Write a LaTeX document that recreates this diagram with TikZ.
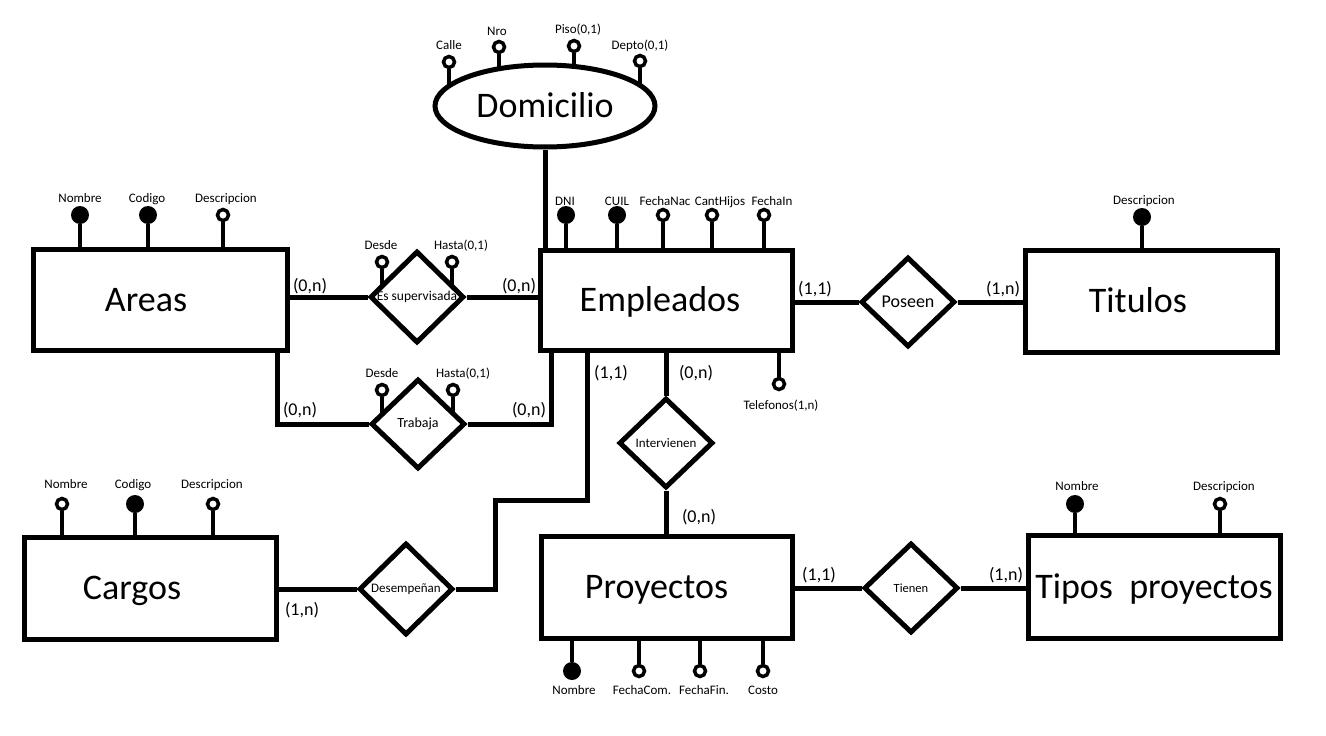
\documentclass[tikz,border=0pt]{standalone}
\usepackage{fontspec}
\setmainfont{Carlito}
\usetikzlibrary{shapes.geometric,backgrounds}
\begin{document}
\begin{tikzpicture}[x=1pt,y=-1pt,
  ent/.style={draw, line width=5pt, inner sep=0pt, fill=white, font=\fontsize{36}{40}\selectfont, text height=23pt, text depth=0pt},
  rel/.style={diamond, draw, line width=5pt, inner sep=0pt, fill=white, minimum width=94pt, minimum height=90pt},
  lnk/.style={line width=5pt},
  stem/.style={line width=4.5pt},
  keyatt/.style={circle, fill=black, minimum size=18pt, inner sep=0pt},
  att/.style={circle, draw, line width=3.5pt, fill=white, minimum size=11pt, inner sep=0pt},
  lab/.style={font=\fontsize{13}{14}\selectfont, inner sep=0pt, text height=9pt, text depth=3pt},
  card/.style={font=\fontsize{18}{20}\selectfont, inner sep=0pt}
]
\useasboundingbox (0,0) rectangle (1326,736);
\begin{scope}[on background layer]
\fill[white] (0,0) rectangle (1326,736);
\end{scope}

% entities
\node[ent, minimum width=254pt, minimum height=101pt] (A) at (160,299.5) {Areas\hspace*{28pt}};
\node[ent, minimum width=252pt, minimum height=100pt] (E) at (666,300) {Empleados\hspace*{12pt}};
\node[ent, minimum width=252pt, minimum height=102pt] (T) at (1151,301) {Titulos\hspace*{26pt}};
\node[ent, minimum width=252pt, minimum height=102pt] (C) at (150,588) {Cargos\hspace*{36pt}};
\node[ent, minimum width=251pt, minimum height=102pt] (P) at (666.5,587) {Proyectos\hspace*{20pt}};
\node[ent, minimum width=252pt, minimum height=103pt] (TP) at (1154,586.5) {Tipos\ \ proyectos};

% Domicilio
\node[ellipse, draw, line width=5pt, fill=white, minimum width=220pt, minimum height=82pt, inner sep=0pt, font=\fontsize{36}{40}\selectfont, text height=23pt, text depth=0pt] (D) at (545,106) {Domicilio};
\draw[lnk] (D.south) -- (D.south |- E.north);

% relationships
\node[rel, font=\fontsize{13.5}{14}\selectfont] (RS) at (417,297) {Es supervisada};
\node[rel, font=\fontsize{14}{15}\selectfont] (RT) at (418,424) {Trabaja};
\node[rel, font=\fontsize{18}{20}\selectfont] (RP) at (908,302) {Poseen};
\node[rel, font=\fontsize{13}{14}\selectfont] (RI) at (666,443) {Intervienen};
\node[rel, font=\fontsize{13}{14}\selectfont, minimum height=92pt] (RD) at (406,589) {Desempeñan};
\node[rel, font=\fontsize{12.5}{14}\selectfont] (RN) at (911,588) {Tienen};

% connectors
\draw[lnk] (RS.west) -- (RS.west -| A.east);
\draw[lnk] (RS.east) -- (RS.east -| E.west);
\coordinate (ta) at (277,350);
\coordinate (tb) at (551,350);
\draw[lnk] (ta) |- (RT.west);
\draw[lnk] (RT.east) -| (tb);
\draw[lnk] (RP.west) -- (RP.west -| E.east);
\draw[lnk] (RP.east) -- (RP.east -| T.west);
\draw[lnk] (RI.north) -- (RI.north |- E.south);
\draw[lnk] (RI.south) -- (RI.south |- P.north);
\draw[lnk] (RD.west) -- (RD.west -| C.east);
\coordinate (k1) at (495,500);
\coordinate (k2) at (587,350);
\draw[lnk] (RD.east) -| (k1) -| (k2);
\draw[lnk] (RN.west) -- (RN.west -| P.east);
\draw[lnk] (RN.east) -- (RN.east -| TP.west);

% cardinalities
\node[card] (c1) at (310,286) {(0,n)};
\node[card] (c2) at (519,286) {(0,n)};
\node[card] (c3) at (300,410) {(0,n)};
\node[card] (c4) at (529,410) {(0,n)};
\node[card] (c5) at (611,373) {(1,1)};
\node[card] (c6) at (696,373) {(0,n)};
\node[card] (c7) at (815,289) {(1,1)};
\node[card] (c8) at (1003,289) {(1,n)};
\node[card] (c9) at (302,610) {(1,n)};
\node[card] (c10) at (699,517) {(0,n)};
\node[card] (c11) at (819,575) {(1,1)};
\node[card] (c12) at (1006,575) {(1,n)};

% attribute circles of Domicilio and of the relationships
\node[att] (d1) at (449,62) {};
\node[att] (d2) at (499,47) {};
\node[att] (d3) at (574,46) {};
\node[att] (d4) at (640,61) {};
\node[att] (s1) at (382,262) {};
\node[att] (s2) at (452,262) {};
\node[att] (t1) at (382,390) {};
\node[att] (t2) at (453,390) {};
\begin{scope}[on background layer]
\draw[stem] (d1) -- (d1 |- D.center);
\draw[stem] (d2) -- (d2 |- D.center);
\draw[stem] (d3) -- (d3 |- D.center);
\draw[stem] (d4) -- (d4 |- D.center);
\draw[stem] (s1) -- (s1 |- RS.center);
\draw[stem] (s2) -- (s2 |- RS.center);
\draw[stem] (t1) -- (t1 |- RT.center);
\draw[stem] (t2) -- (t2 |- RT.center);
\end{scope}
\node[lab] (d1l) at (449,46) {Calle};
\node[lab] (d2l) at (497,32) {Nro};
\node[lab] (d3l) at (578,31) {Piso(0,1)};
\node[lab] (d4l) at (640,46) {Depto(0,1)};
\node[lab] (s1l) at (381,246) {Desde};
\node[lab] (s2l) at (461,246) {Hasta(0,1)};
\node[lab] (t1l) at (382,374) {Desde};
\node[lab] (t2l) at (463,374) {Hasta(0,1)};

% Areas attributes
\node[keyatt] (a1) at (80,215) {};
\node[keyatt] (a2) at (148,215) {};
\node[att] (a3) at (223,215) {};
\draw[stem] (a1) -- (a1 |- A.north);
\draw[stem] (a2) -- (a2 |- A.north);
\draw[stem] (a3) -- (a3 |- A.north);
\node[lab] (a1l) at (80,199) {Nombre};
\node[lab] (a2l) at (147,199) {Codigo};
\node[lab] (a3l) at (226,199) {Descripcion};

% Empleados attributes
\node[keyatt] (e1) at (566,215) {};
\node[keyatt] (e2) at (617,215) {};
\node[att] (e3) at (663,215) {};
\node[att] (e4) at (712,215) {};
\node[att] (e5) at (764,215) {};
\node[att] (e6) at (779,384) {};
\draw[stem] (e1) -- (e1 |- E.north);
\draw[stem] (e2) -- (e2 |- E.north);
\draw[stem] (e3) -- (e3 |- E.north);
\draw[stem] (e4) -- (e4 |- E.north);
\draw[stem] (e5) -- (e5 |- E.north);
\draw[stem] (e6) -- (e6 |- E.south);
\node[lab] (e1l) at (565,202) {DNI};
\node[lab] (e2l) at (617,202) {CUIL};
\node[lab] (e3l) at (665,202) {FechaNac};
\node[lab] (e4l) at (720,202) {CantHijos};
\node[lab] (e5l) at (772,202) {FechaIn};
\node[lab] (e6l) at (781,406) {Telefonos(1,n)};

% Titulos attributes
\node[keyatt] (ti1) at (1142,217) {};
\draw[stem] (ti1) -- (ti1 |- T.north);
\node[lab] (ti1l) at (1144,201) {Descripcion};

% Cargos attributes
\node[att] (g1) at (62,504) {};
\node[keyatt] (g2) at (135,504) {};
\node[att] (g3) at (213,504) {};
\draw[stem] (g1) -- (g1 |- C.north);
\draw[stem] (g2) -- (g2 |- C.north);
\draw[stem] (g3) -- (g3 |- C.north);
\node[lab] (g1l) at (66,485) {Nombre};
\node[lab] (g2l) at (133,485) {Codigo};
\node[lab] (g3l) at (212,485) {Descripcion};

% Proyectos attributes
\node[keyatt] (p1) at (572,671) {};
\node[att] (p2) at (639,671) {};
\node[att] (p3) at (700,671) {};
\node[att] (p4) at (763,671) {};
\draw[stem] (p1) -- (p1 |- P.south);
\draw[stem] (p2) -- (p2 |- P.south);
\draw[stem] (p3) -- (p3 |- P.south);
\draw[stem] (p4) -- (p4 |- P.south);
\node[lab] (p1l) at (574,691) {Nombre};
\node[lab] (p2l) at (642,691) {FechaCom.};
\node[lab] (p3l) at (704,691) {FechaFin.};
\node[lab] (p4l) at (763,691) {Costo};

% Tipos proyectos attributes
\node[keyatt] (tp1) at (1075,504) {};
\node[att] (tp2) at (1220,504) {};
\draw[stem] (tp1) -- (tp1 |- TP.north);
\draw[stem] (tp2) -- (tp2 |- TP.north);
\node[lab] (tp1l) at (1077,487) {Nombre};
\node[lab] (tp2l) at (1224,487) {Descripcion};
\end{tikzpicture}
\end{document}
